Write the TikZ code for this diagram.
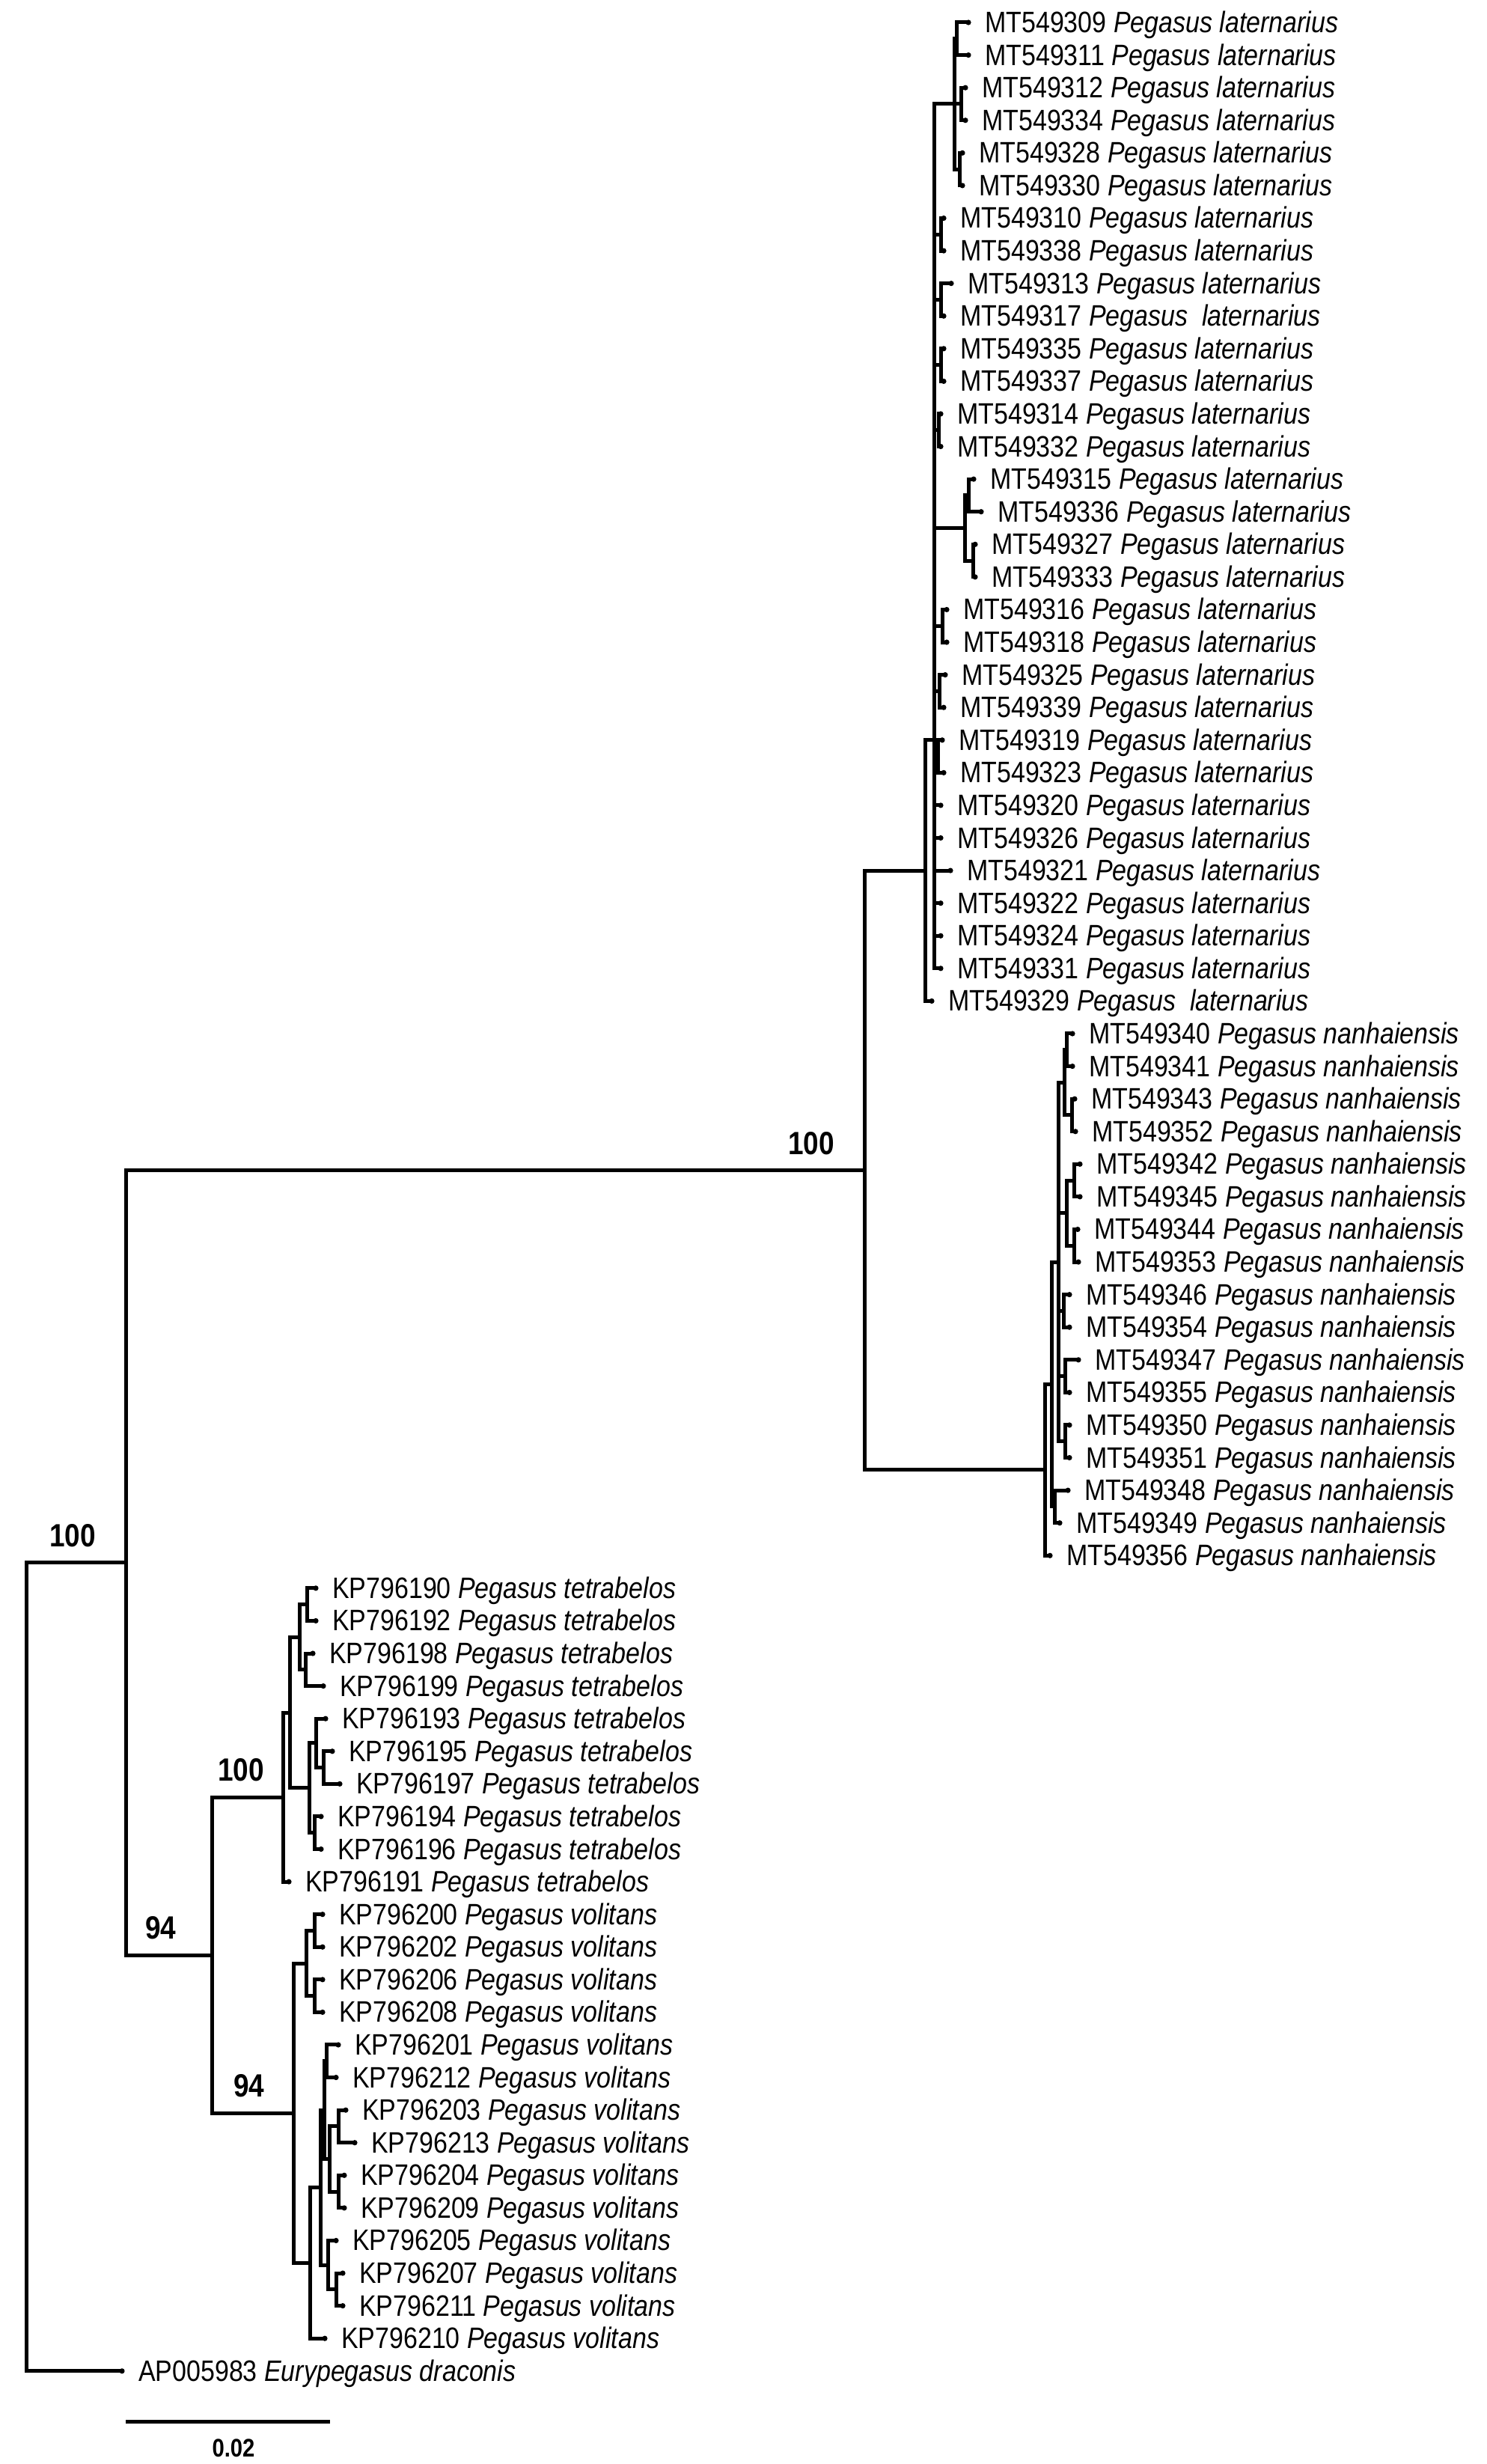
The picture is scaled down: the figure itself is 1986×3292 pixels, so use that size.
\documentclass[tikz,border=0pt]{standalone}
\usepackage{fontspec}
\setmainfont{Liberation Sans}[FakeStretch=0.86]
\newcommand{\inode}[3]{\coordinate (#1) at (#2,#3);}
\newcommand{\tipnode}[5]{%
  \coordinate (#1) at (#2,#3);
  \fill (#1) circle[radius=3.6];
  \node[tiplab] (#1l) at ([shift={(22,13.5)}]#1) {#4 \textit{#5}};}
\newcommand{\brlink}[2]{\draw[br] (#1) |- (#2);}
\begin{document}
\begin{tikzpicture}[x=1pt,y=-1pt,
  br/.style={line width=5pt},
  tiplab/.style={anchor=base west,inner sep=0pt,font=\fontsize{39.5}{46}\selectfont},
  supp/.style={anchor=base,inner sep=0pt,font=\fontsize{43}{50}\selectfont\bfseries}]
\fill[white] (0,0) rectangle (1986,3292);
\useasboundingbox (0,0) rectangle (1986,3292);

% ---------- backbone ----------
\inode{R}{35}{2627.78}
\inode{I}{168}{2087.80}
\inode{B100}{1155}{1563.48}
\inode{L94}{283}{2612.12}

% ---------- P. laternarius ----------
\inode{X}{1236}{1163.08}
\inode{Y}{1248}{988.76}
\inode{L1}{1275}{138.95}
\inode{P309}{1278}{51.79}
\inode{P312}{1284}{138.95}
\inode{P328}{1282}{226.11}
\inode{P310}{1257}{313.27}
\inode{P313}{1257}{400.43}
\inode{P335}{1257}{487.59}
\inode{P314}{1254}{574.75}
\inode{L2}{1289}{705.49}
\inode{P315}{1294}{661.91}
\inode{P327}{1300}{749.07}
\inode{P316}{1259}{836.23}
\inode{P325}{1255}{923.39}
\inode{P319}{1253}{1010.55}

\tipnode{t309}{1294}{30.00}{MT549309}{Pegasus laternarius}
\tipnode{t311}{1294}{73.58}{MT549311}{Pegasus laternarius}
\tipnode{t312}{1290}{117.16}{MT549312}{Pegasus laternarius}
\tipnode{t334}{1290}{160.74}{MT549334}{Pegasus laternarius}
\tipnode{t328}{1286}{204.32}{MT549328}{Pegasus laternarius}
\tipnode{t330}{1286}{247.90}{MT549330}{Pegasus laternarius}
\tipnode{t310}{1261}{291.48}{MT549310}{Pegasus laternarius}
\tipnode{t338}{1261}{335.06}{MT549338}{Pegasus laternarius}
\tipnode{t313}{1271}{378.64}{MT549313}{Pegasus laternarius}
\tipnode{t317}{1261}{422.22}{MT549317}{Pegasus~ laternarius}
\tipnode{t335}{1261}{465.80}{MT549335}{Pegasus laternarius}
\tipnode{t337}{1261}{509.38}{MT549337}{Pegasus laternarius}
\tipnode{t314}{1257}{552.96}{MT549314}{Pegasus laternarius}
\tipnode{t332}{1257}{596.54}{MT549332}{Pegasus laternarius}
\tipnode{t315}{1301}{640.12}{MT549315}{Pegasus laternarius}
\tipnode{t336}{1311}{683.70}{MT549336}{Pegasus laternarius}
\tipnode{t327}{1303}{727.28}{MT549327}{Pegasus laternarius}
\tipnode{t333}{1303}{770.86}{MT549333}{Pegasus laternarius}
\tipnode{t316}{1265}{814.44}{MT549316}{Pegasus laternarius}
\tipnode{t318}{1265}{858.02}{MT549318}{Pegasus laternarius}
\tipnode{t325}{1263}{901.60}{MT549325}{Pegasus laternarius}
\tipnode{t339}{1261}{945.18}{MT549339}{Pegasus laternarius}
\tipnode{t319}{1259}{988.76}{MT549319}{Pegasus laternarius}
\tipnode{t323}{1261}{1032.34}{MT549323}{Pegasus laternarius}
\tipnode{t320}{1257}{1075.92}{MT549320}{Pegasus laternarius}
\tipnode{t326}{1257}{1119.50}{MT549326}{Pegasus laternarius}
\tipnode{t321}{1270}{1163.08}{MT549321}{Pegasus laternarius}
\tipnode{t322}{1257}{1206.66}{MT549322}{Pegasus laternarius}
\tipnode{t324}{1257}{1250.24}{MT549324}{Pegasus laternarius}
\tipnode{t331}{1257}{1293.82}{MT549331}{Pegasus laternarius}
\tipnode{t329}{1245}{1337.40}{MT549329}{Pegasus~ laternarius}

% ---------- P. nanhaiensis ----------
\inode{N}{1396}{1963.87}
\inode{M}{1405}{1849.47}
\inode{K}{1414}{1686.04}
\inode{A1}{1422}{1446.35}
\inode{P340}{1425}{1402.77}
\inode{P343}{1432}{1489.93}
\inode{A2}{1425}{1620.67}
\inode{P342}{1435}{1577.09}
\inode{P344}{1435}{1664.25}
\inode{P346}{1421}{1751.41}
\inode{P347}{1423}{1838.57}
\inode{P350}{1423}{1925.73}
\inode{P348}{1409}{2012.89}

\tipnode{t340}{1433}{1380.98}{MT549340}{Pegasus nanhaiensis}
\tipnode{t341}{1433}{1424.56}{MT549341}{Pegasus nanhaiensis}
\tipnode{t343}{1436}{1468.14}{MT549343}{Pegasus nanhaiensis}
\tipnode{t352}{1437}{1511.72}{MT549352}{Pegasus nanhaiensis}
\tipnode{t342}{1443}{1555.30}{MT549342}{Pegasus nanhaiensis}
\tipnode{t345}{1443}{1598.88}{MT549345}{Pegasus nanhaiensis}
\tipnode{t344}{1440}{1642.46}{MT549344}{Pegasus nanhaiensis}
\tipnode{t353}{1441}{1686.04}{MT549353}{Pegasus nanhaiensis}
\tipnode{t346}{1429}{1729.62}{MT549346}{Pegasus nanhaiensis}
\tipnode{t354}{1429}{1773.20}{MT549354}{Pegasus nanhaiensis}
\tipnode{t347}{1441}{1816.78}{MT549347}{Pegasus nanhaiensis}
\tipnode{t355}{1429}{1860.36}{MT549355}{Pegasus nanhaiensis}
\tipnode{t350}{1429}{1903.94}{MT549350}{Pegasus nanhaiensis}
\tipnode{t351}{1429}{1947.52}{MT549351}{Pegasus nanhaiensis}
\tipnode{t348}{1427}{1991.10}{MT549348}{Pegasus nanhaiensis}
\tipnode{t349}{1416}{2034.68}{MT549349}{Pegasus nanhaiensis}
\tipnode{t356}{1403}{2078.26}{MT549356}{Pegasus nanhaiensis}

% ---------- P. tetrabelos ----------
\inode{T100}{378}{2401.03}
\inode{TA}{387}{2287.99}
\inode{TB}{400}{2187.21}
\inode{P190}{410}{2143.63}
\inode{P198}{408}{2230.79}
\inode{TC}{413}{2388.77}
\inode{TD}{422}{2328.85}
\inode{P195}{432}{2361.53}
\inode{P194}{420}{2448.69}

\tipnode{t190}{422}{2121.84}{KP796190}{Pegasus tetrabelos}
\tipnode{t192}{422}{2165.42}{KP796192}{Pegasus tetrabelos}
\tipnode{t198}{418}{2209.00}{KP796198}{Pegasus tetrabelos}
\tipnode{t199}{432}{2252.58}{KP796199}{Pegasus tetrabelos}
\tipnode{t193}{435}{2296.16}{KP796193}{Pegasus tetrabelos}
\tipnode{t195}{444}{2339.74}{KP796195}{Pegasus tetrabelos}
\tipnode{t197}{454}{2383.32}{KP796197}{Pegasus tetrabelos}
\tipnode{t194}{429}{2426.90}{KP796194}{Pegasus tetrabelos}
\tipnode{t196}{429}{2470.48}{KP796196}{Pegasus tetrabelos}
\tipnode{t191}{386}{2514.06}{KP796191}{Pegasus tetrabelos}

% ---------- P. volitans ----------
\inode{V94}{392}{2823.21}
\inode{VA}{409}{2623.01}
\inode{P200}{420}{2579.43}
\inode{P206}{420}{2666.59}
\inode{VB}{414}{3023.41}
\inode{VC}{428}{2922.63}
\inode{VD}{433}{2819.12}
\inode{P201}{436}{2753.75}
\inode{VF}{440}{2884.49}
\inode{P203}{452}{2840.91}
\inode{P204}{452}{2928.07}
\inode{VE}{438}{3026.13}
\inode{P207}{449}{3058.81}

\tipnode{t200}{431}{2557.64}{KP796200}{Pegasus volitans}
\tipnode{t202}{431}{2601.22}{KP796202}{Pegasus volitans}
\tipnode{t206}{431}{2644.80}{KP796206}{Pegasus volitans}
\tipnode{t208}{431}{2688.38}{KP796208}{Pegasus volitans}
\tipnode{t201}{452}{2731.96}{KP796201}{Pegasus volitans}
\tipnode{t212}{449}{2775.54}{KP796212}{Pegasus volitans}
\tipnode{t203}{462}{2819.12}{KP796203}{Pegasus volitans}
\tipnode{t213}{474}{2862.70}{KP796213}{Pegasus volitans}
\tipnode{t204}{460}{2906.28}{KP796204}{Pegasus volitans}
\tipnode{t209}{460}{2949.86}{KP796209}{Pegasus volitans}
\tipnode{t205}{449}{2993.44}{KP796205}{Pegasus volitans}
\tipnode{t207}{458}{3037.02}{KP796207}{Pegasus volitans}
\tipnode{t211}{458}{3080.60}{KP796211}{Pegasus volitans}
\tipnode{t210}{434}{3124.18}{KP796210}{Pegasus volitans}

% ---------- outgroup ----------
\tipnode{tOut}{163}{3167.76}{AP005983}{Eurypegasus draconis}

% ---------- branches ----------
\brlink{R}{I}\brlink{R}{tOut}
\brlink{I}{B100}\brlink{I}{L94}
\brlink{B100}{X}\brlink{B100}{N}
\brlink{X}{Y}\brlink{X}{t329}
\brlink{Y}{L1}\brlink{Y}{P310}\brlink{Y}{P313}\brlink{Y}{P335}\brlink{Y}{P314}
\brlink{Y}{L2}\brlink{Y}{P316}\brlink{Y}{P325}\brlink{Y}{P319}
\brlink{Y}{t320}\brlink{Y}{t326}\brlink{Y}{t321}\brlink{Y}{t322}\brlink{Y}{t324}\brlink{Y}{t331}
\brlink{L1}{P309}\brlink{L1}{P312}\brlink{L1}{P328}
\brlink{P309}{t309}\brlink{P309}{t311}
\brlink{P312}{t312}\brlink{P312}{t334}
\brlink{P328}{t328}\brlink{P328}{t330}
\brlink{P310}{t310}\brlink{P310}{t338}
\brlink{P313}{t313}\brlink{P313}{t317}
\brlink{P335}{t335}\brlink{P335}{t337}
\brlink{P314}{t314}\brlink{P314}{t332}
\brlink{L2}{P315}\brlink{L2}{P327}
\brlink{P315}{t315}\brlink{P315}{t336}
\brlink{P327}{t327}\brlink{P327}{t333}
\brlink{P316}{t316}\brlink{P316}{t318}
\brlink{P325}{t325}\brlink{P325}{t339}
\brlink{P319}{t319}\brlink{P319}{t323}

\brlink{N}{M}\brlink{N}{t356}
\brlink{M}{K}\brlink{M}{P348}
\brlink{K}{A1}\brlink{K}{A2}\brlink{K}{P346}\brlink{K}{P347}\brlink{K}{P350}
\brlink{A1}{P340}\brlink{A1}{P343}
\brlink{A2}{P342}\brlink{A2}{P344}
\brlink{P340}{t340}\brlink{P340}{t341}
\brlink{P343}{t343}\brlink{P343}{t352}
\brlink{P342}{t342}\brlink{P342}{t345}
\brlink{P344}{t344}\brlink{P344}{t353}
\brlink{P346}{t346}\brlink{P346}{t354}
\brlink{P347}{t347}\brlink{P347}{t355}
\brlink{P350}{t350}\brlink{P350}{t351}
\brlink{P348}{t348}\brlink{P348}{t349}

\brlink{L94}{T100}\brlink{L94}{V94}
\brlink{T100}{TA}\brlink{T100}{t191}
\brlink{TA}{TB}\brlink{TA}{TC}
\brlink{TB}{P190}\brlink{TB}{P198}
\brlink{P190}{t190}\brlink{P190}{t192}
\brlink{P198}{t198}\brlink{P198}{t199}
\brlink{TC}{TD}\brlink{TC}{P194}
\brlink{TD}{t193}\brlink{TD}{P195}
\brlink{P195}{t195}\brlink{P195}{t197}
\brlink{P194}{t194}\brlink{P194}{t196}

\brlink{V94}{VA}\brlink{V94}{VB}
\brlink{VA}{P200}\brlink{VA}{P206}
\brlink{P200}{t200}\brlink{P200}{t202}
\brlink{P206}{t206}\brlink{P206}{t208}
\brlink{VB}{VC}\brlink{VB}{t210}
\brlink{VC}{VD}\brlink{VC}{VE}
\brlink{VD}{P201}\brlink{VD}{VF}
\brlink{P201}{t201}\brlink{P201}{t212}
\brlink{VF}{P203}\brlink{VF}{P204}
\brlink{P203}{t203}\brlink{P203}{t213}
\brlink{P204}{t204}\brlink{P204}{t209}
\brlink{VE}{t205}\brlink{VE}{P207}
\brlink{P207}{t207}\brlink{P207}{t211}

% ---------- support values ----------
\node[supp] (s1) at (97,2066) {100};
\node[supp] (s2) at (1084,1542) {100};
\node[supp] (s3) at (322,2379) {100};
\node[supp] (s4) at (215,2590) {94};
\node[supp] (s5) at (333,2801) {94};

% ---------- scale bar ----------
\coordinate (sb1) at (168,3235);
\coordinate (sb2) at (441,3235);
\draw[br] (sb1) -- (sb2);
\node[supp,font=\fontsize{34}{40}\selectfont\bfseries] (sbl) at (312,3282) {0.02};
\end{tikzpicture}
\end{document}
